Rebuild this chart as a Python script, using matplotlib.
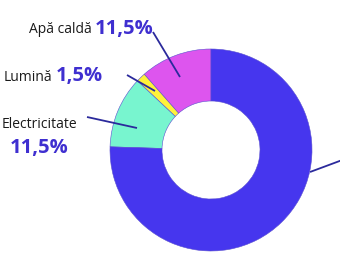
import matplotlib
matplotlib.use("Agg")
import matplotlib.pyplot as plt

# Data (share of household energy use, %)
labels = ["Apă caldă", "Lumină", "Electricitate", "Încălzire"]
values = [11.5, 1.5, 11.5, 75.5]
value_text = ["11,5%", "1,5%", "11,5%", "75,5%"]
colors = ["#dd55ee", "#fff23a", "#78f5cf", "#4636ee"]

LABEL_COLOR = "#1a1a1a"
PCT_COLOR = "#3f2fd0"
LINE_COLOR = "#2b2a9c"
H = 255

plt.rcParams["font.family"] = ["Open Sans", "DejaVu Sans"]

fig = plt.figure(figsize=(3.4, 2.55), dpi=100)
ax = fig.add_axes([0, 0, 1, 1])

ax.pie(values, colors=colors, startangle=90, counterclock=True,
       center=(211, H - 151), radius=101, frame=True,
       wedgeprops=dict(width=52, edgecolor="#5a4fd0", linewidth=0.4))
ax.set_xlim(0, 340)
ax.set_ylim(0, H)
ax.set_aspect("equal")
ax.axis("off")


def px(x, y):
    return x, H - y


# leader lines (pixel coordinates of the reference layout)
leaders = [((153, 33), (180, 78)),
           ((127, 76), (155, 92)),
           ((87, 118), (137, 129)),
           ((310, 173), (345, 160))]
for (x0, y0), (x1, y1) in leaders:
    ax.plot([px(x0, y0)[0], px(x1, y1)[0]], [px(x0, y0)[1], px(x1, y1)[1]],
            color=LINE_COLOR, lw=1.3, solid_capstyle="butt")

# annotations
ax.text(*px(92, 33), labels[0], ha="right", va="baseline", fontsize=10, color=LABEL_COLOR)
ax.text(*px(95, 34), value_text[0], ha="left", va="baseline", fontsize=14.5,
        fontweight="bold", color=PCT_COLOR)

ax.text(*px(52, 81), labels[1], ha="right", va="baseline", fontsize=10, color=LABEL_COLOR)
ax.text(*px(56, 81), value_text[1], ha="left", va="baseline", fontsize=14.5,
        fontweight="bold", color=PCT_COLOR)

ax.text(*px(39, 128), labels[2], ha="center", va="baseline", fontsize=10, color=LABEL_COLOR)
ax.text(*px(39, 153), value_text[2], ha="center", va="baseline", fontsize=14.5,
        fontweight="bold", color=PCT_COLOR)

fig.savefig("out.png", dpi=100)
